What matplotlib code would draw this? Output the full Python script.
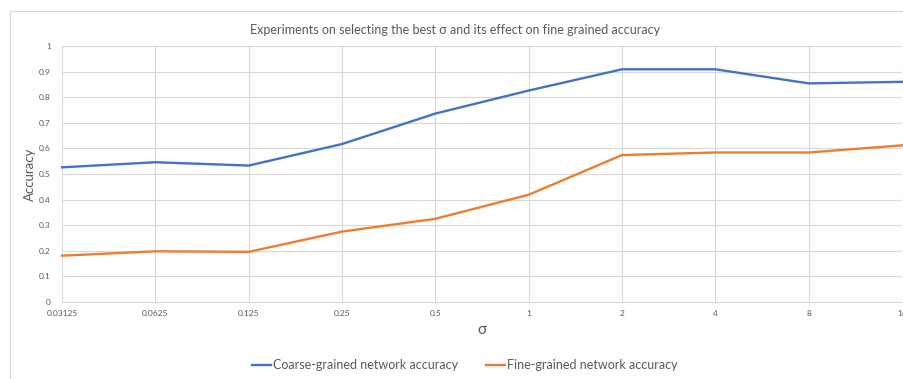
import matplotlib
matplotlib.use('Agg')
import matplotlib.pyplot as plt
from matplotlib.patches import Rectangle

# sigma values (categorical x axis)
sigmas = ['0.03125', '0.0625', '0.125', '0.25', '0.5', '1', '2', '4', '8', '16']

# accuracies
coarse_acc = [0.526, 0.546, 0.533, 0.617, 0.736, 0.826, 0.909, 0.909, 0.854, 0.860]
fine_acc = [0.181, 0.198, 0.196, 0.275, 0.325, 0.419, 0.574, 0.584, 0.584, 0.612]

y_ticks = [0, 0.1, 0.2, 0.3, 0.4, 0.5, 0.6, 0.7, 0.8, 0.9, 1]
y_tick_labels = ['0', '0.1', '0.2', '0.3', '0.4', '0.5', '0.6', '0.7', '0.8', '0.9', '1']

plt.rcParams['font.family'] = ['Lato', 'DejaVu Sans']

text_gray = '#595959'
grid_gray = '#d9d9d9'

fig = plt.figure(figsize=(9.04, 3.79), dpi=100)

# chart-area border (cropped screenshot shows only top and left edges)
fig.patches.append(Rectangle((10 / 904, -0.05), 1.1, 1 - 11 / 379 + 0.05,
                             transform=fig.transFigure, fill=False,
                             edgecolor='#d9d9d9', linewidth=0.8))

ax = fig.add_axes([62 / 904, 1 - 302 / 379, 840 / 904, 256 / 379])

pos = list(range(len(sigmas)))
ax.plot(pos, coarse_acc, color='#4472C4', linewidth=1.7,
        label='Coarse-grained network accuracy', clip_on=False)
ax.plot(pos, fine_acc, color='#ED7D31', linewidth=1.7,
        label='Fine-grained network accuracy', clip_on=False)

ax.set_xlim(0, len(sigmas) - 1)
ax.set_ylim(0, 1)
ax.set_xticks(pos)
ax.set_xticklabels(sigmas)
ax.set_yticks(y_ticks)
ax.set_yticklabels(y_tick_labels)

ax.grid(True, color=grid_gray, linewidth=0.8)
ax.set_axisbelow(True)
for side in ['top', 'right', 'left']:
    ax.spines[side].set_visible(False)
ax.spines['bottom'].set_color(grid_gray)
ax.spines['bottom'].set_linewidth(0.8)
ax.tick_params(axis='both', length=0, labelsize=6, colors=text_gray)
ax.tick_params(axis='x', pad=6)
ax.tick_params(axis='y', pad=8)

ax.set_ylabel('Accuracy', fontsize=9.5, color=text_gray, labelpad=2)
ax.set_xlabel('σ', fontsize=11, color=text_gray, labelpad=4)

fig.text(455 / 904, 1 - 30 / 379,
         'Experiments on selecting the best σ and its effect on fine grained accuracy',
         ha='center', va='center', fontsize=9, color=text_gray)

fig.legend(loc='center', bbox_to_anchor=(465 / 904, 1 - 365 / 379), ncol=2,
           frameon=False, fontsize=9, handlelength=1.5, handletextpad=0.2,
           columnspacing=2.2, labelcolor=text_gray)

fig.savefig('out.png', dpi=100)
